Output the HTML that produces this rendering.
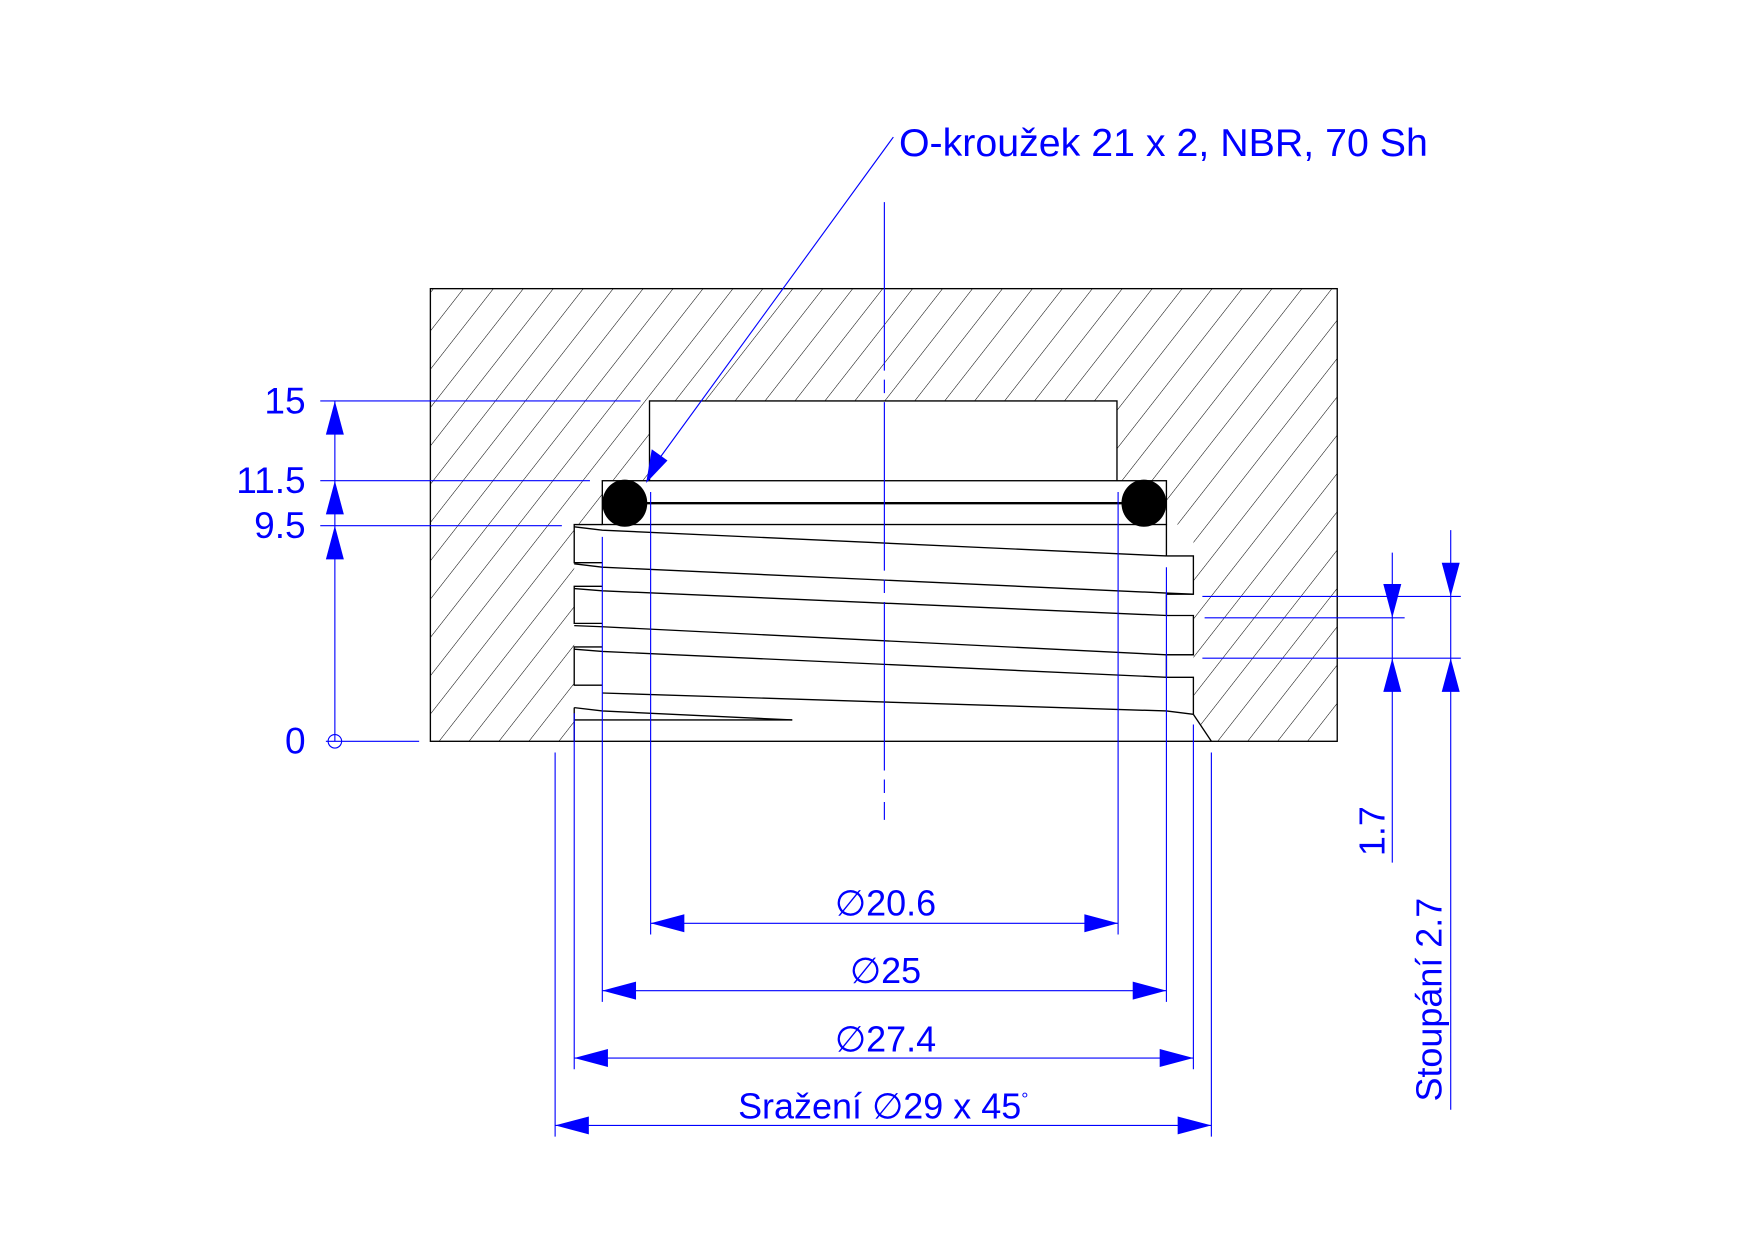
<!DOCTYPE html>
<html><head><meta charset="utf-8"><style>html,body{margin:0;padding:0;background:#fff}svg{display:block}</style></head>
<body>
<svg width="1753" height="1240" viewBox="0 0 1560 1104" preserveAspectRatio="none" xmlns="http://www.w3.org/2000/svg">
<defs>
<pattern id="h" patternUnits="userSpaceOnUse" width="21" height="21" patternTransform="rotate(38)">
<line x1="0" y1="0" x2="0" y2="21" stroke="#000" stroke-width="0.9"/>
</pattern>
</defs>
<rect x="0" y="0" width="1560" height="1104" fill="#fff"/>
<rect x="383" y="257" width="807" height="403" fill="url(#h)"/>
<g fill="#fff" stroke="none">
<rect x="578" y="357" width="416" height="72"/>
<rect x="536" y="428" width="502" height="40"/>
<rect x="511" y="467" width="551" height="193"/>
<polygon points="1062,636 1078,660 1062,660"/>
</g>
<g fill="none" stroke="#000" stroke-width="1.2">
<rect x="383" y="257" width="807" height="403"/>
<polyline points="578,428 578,357 994,357 994,428"/>
<rect x="536" y="428" width="502" height="39"/>
<polyline points="536,467 511,467 511,501 536,501"/>
<polyline points="536,522 511,522 511,555 536,555"/>
<polyline points="536,576 511,576 511,610 536,610"/>
<line x1="511" y1="630" x2="511" y2="660"/>
<polyline points="1038,495 1062,495 1062,529 1038,529"/>
<polyline points="1038,548 1062,548 1062,583 1038,583"/>
<polyline points="1038,603 1062,603 1062,636"/>
<line x1="1062" y1="636" x2="1078" y2="660"/>
<line x1="1038" y1="467" x2="1038" y2="495"/>
<line x1="1038" y1="529" x2="1038" y2="548"/>
<line x1="1038" y1="583" x2="1038" y2="603"/>
<polyline points="511,469 536,472 1038,495"/>
<polyline points="511,502 536,505 1038,528 1062,529"/>
<polyline points="511,524 536,526 1038,548"/>
<polyline points="511,557 536,558 1038,583 1062,583"/>
<polyline points="511,578 536,580 1038,603"/>
<polyline points="536,617 1038,633 1062,636"/>
<polyline points="511,630 536,633 705,641"/>
<line x1="511" y1="641" x2="705" y2="641"/>
</g>
<line x1="574" y1="448" x2="1000" y2="448" stroke="#000" stroke-width="2.2"/>
<ellipse cx="556" cy="448" rx="20" ry="21" fill="#000"/>
<ellipse cx="1018" cy="448" rx="20" ry="21" fill="#000"/>

<g stroke="#0000ff" stroke-width="1" fill="none">
<line x1="787" y1="180" x2="787" y2="730" stroke-dasharray="150,8,12,8"/>
<line x1="795" y1="122" x2="584" y2="412"/>
<line x1="298" y1="357" x2="298" y2="660"/>
<line x1="285" y1="357" x2="570" y2="357"/>
<line x1="285" y1="428" x2="525" y2="428"/>
<line x1="285" y1="468" x2="500" y2="468"/>
<line x1="290" y1="660" x2="373" y2="660"/>
<circle cx="298" cy="660" r="6"/>
<line x1="579" y1="438" x2="579" y2="832"/>
<line x1="995" y1="438" x2="995" y2="832"/>
<line x1="536" y1="478" x2="536" y2="892"/>
<line x1="1038" y1="505" x2="1038" y2="892"/>
<line x1="511" y1="635" x2="511" y2="952"/>
<line x1="1062" y1="645" x2="1062" y2="952"/>
<line x1="494" y1="670" x2="494" y2="1012"/>
<line x1="1078" y1="670" x2="1078" y2="1012"/>
<line x1="579" y1="822" x2="995" y2="822"/>
<line x1="536" y1="882" x2="1038" y2="882"/>
<line x1="511" y1="942" x2="1062" y2="942"/>
<line x1="494" y1="1002" x2="1078" y2="1002"/>
<line x1="1070" y1="531" x2="1300" y2="531"/>
<line x1="1072" y1="550" x2="1250" y2="550"/>
<line x1="1070" y1="586" x2="1300" y2="586"/>
<line x1="1239" y1="492" x2="1239" y2="768"/>
<line x1="1291" y1="472" x2="1291" y2="988"/>
</g>
<g fill="#0000ff">
<polygon points="575,430 580,400 594,410"/>
<polygon points="298,357 290,387 306,387"/>
<polygon points="298,428 290,458 306,458"/>
<polygon points="298,468 290,498 306,498"/>
<polygon points="579,822 609,814 609,830"/>
<polygon points="995,822 965,814 965,830"/>
<polygon points="536,882 566,874 566,890"/>
<polygon points="1038,882 1008,874 1008,890"/>
<polygon points="511,942 541,934 541,950"/>
<polygon points="1062,942 1032,934 1032,950"/>
<polygon points="494,1002 524,994 524,1010"/>
<polygon points="1078,1002 1048,994 1048,1010"/>
<polygon points="1239,550 1231,520 1247,520"/>
<polygon points="1239,586 1231,616 1247,616"/>
<polygon points="1291,531 1283,501 1299,501"/>
<polygon points="1291,586 1283,616 1299,616"/>
</g>
<g fill="#0000ff" font-family="'Liberation Sans', 'DejaVu Sans', sans-serif" font-size="32">
<text x="800" y="139" font-size="35">O-kroužek 21 x 2, NBR, 70 Sh</text>
<text x="272" y="368" text-anchor="end" font-size="33">15</text>
<text x="272" y="439" text-anchor="end" font-size="33">11.5</text>
<text x="272" y="479" text-anchor="end" font-size="33">9.5</text>
<text x="272" y="671" text-anchor="end" font-size="33">0</text>
<text x="788" y="815" text-anchor="middle"><tspan font-family="'DejaVu Sans',sans-serif">∅</tspan>20.6</text>
<text x="788" y="875" text-anchor="middle"><tspan font-family="'DejaVu Sans',sans-serif">∅</tspan>25</text>
<text x="788" y="936" text-anchor="middle"><tspan font-family="'DejaVu Sans',sans-serif">∅</tspan>27.4</text>
<text x="786" y="996" text-anchor="middle">Sražení <tspan font-family="'DejaVu Sans',sans-serif">∅</tspan>29 x 45<tspan font-size="16" dy="-12">°</tspan></text>
<text transform="translate(1232,740) rotate(-90)" text-anchor="middle">1.7</text>
<text transform="translate(1283,890) rotate(-90)" text-anchor="middle">Stoupání 2.7</text>
</g>
</svg>
</body></html>
